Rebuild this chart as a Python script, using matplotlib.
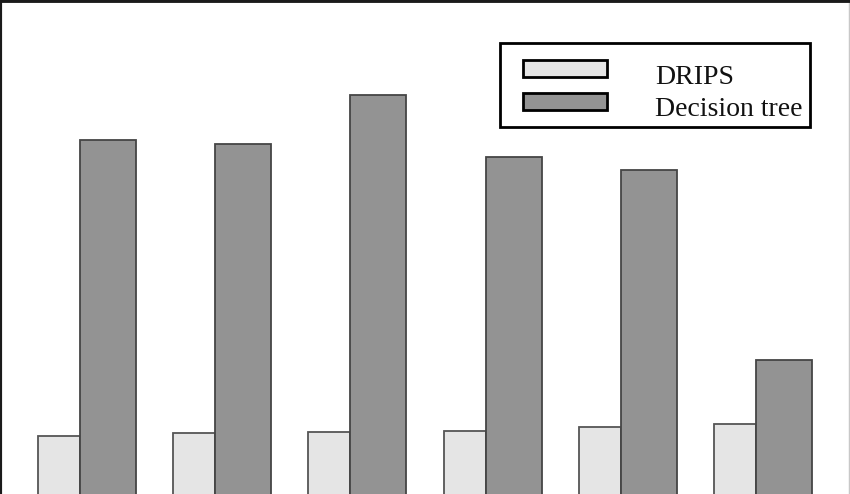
import numpy as np
import matplotlib
matplotlib.use("Agg")
import matplotlib.pyplot as plt
from matplotlib.patches import Rectangle

# values (bar height in px above an assumed
# baseline 20 px below the lower crop edge)
groups = ["1", "2", "3", "4", "5", "6"]
drips = [78, 81, 82, 83, 87, 90]
decision_tree = [374, 370, 419, 357, 344, 154]
series_names = ["DRIPS", "Decision tree"]

W, H = 850, 494
fig = plt.figure(figsize=(W / 100, H / 100), dpi=100)
ax = fig.add_axes([0, 0, 1, 1])

x = np.arange(len(groups))
ax.bar(x, drips, width=-0.311, align="edge", color="#e5e5e5",
       edgecolor="#555555", linewidth=1.3)
ax.bar(x, decision_tree, width=0.414, align="edge", color="#939393",
       edgecolor="#454545", linewidth=1.3)

step = 135.2
ax.set_xlim(-80 / step, (W - 80) / step)
ax.set_ylim(20, H + 20)
ax.set_xticks([])
ax.set_yticks([])
ax.spines["bottom"].set_visible(False)
ax.spines["top"].set_linewidth(3.5)
ax.spines["left"].set_linewidth(3)
ax.spines["top"].set_color("#1a1a1a")
ax.spines["left"].set_color("#1a1a1a")
ax.spines["right"].set_color("#c8c8c8")
ax.spines["right"].set_linewidth(2.5)


def px(xp, yp):
    # pixel position (from top left) -> figure fraction
    return xp / W, 1 - yp / H


# hand drawn legend box
tf = fig.transFigure
lx, ly = px(500, 127)
fig.patches.append(Rectangle((lx, ly), 310 / W, 84 / H, transform=tf,
                             facecolor="white", edgecolor="black", linewidth=2))
for (top, fc), name, base in zip([(60, "#e5e5e5"), (93, "#939393")],
                                 series_names, [84, 116]):
    rx, ry = px(523, top + 17)
    fig.patches.append(Rectangle((rx, ry), 84 / W, 17 / H, transform=tf,
                                 facecolor=fc, edgecolor="black", linewidth=2))
    tx, ty = px(655, base)
    fig.text(tx, ty, name, family="Liberation Serif", fontsize=20,
             va="baseline", ha="left", color="#111111")

fig.savefig("out.png", dpi=100)
